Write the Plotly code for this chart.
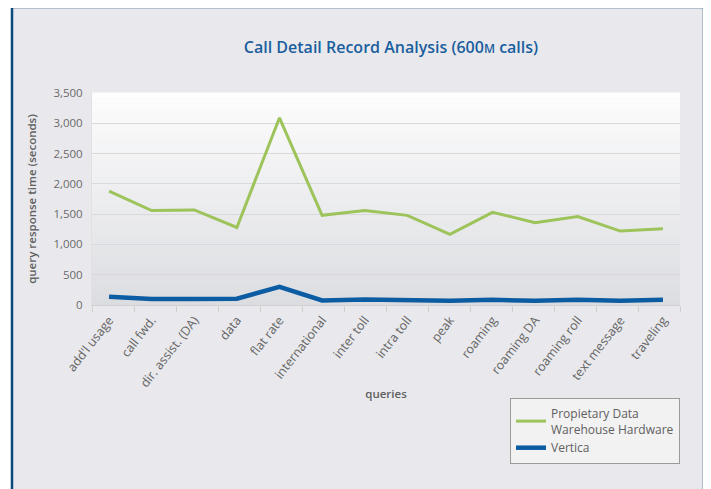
import plotly.graph_objects as go

categories = ["add'l usage", "call fwd.", "dir. assist. (DA)", "data", "flat rate",
              "international", "inter toll", "intra toll", "peak", "roaming",
              "roaming DA", "roaming roll", "text message", "traveling"]
proprietary = [1880, 1560, 1570, 1280, 3090, 1480, 1560, 1480, 1165, 1530, 1360, 1460, 1220, 1260]
vertica = [135, 100, 100, 105, 300, 75, 90, 85, 70, 85, 70, 85, 70, 85]
y_ticks = [0, 500, 1000, 1500, 2000, 2500, 3000, 3500]
y_ticktext = ["0", "500", "1,000", "1,500", "2,000", "2,500", "3,000", "3,500"]

OFF = 8  # page body margin
W, H = 711 - OFF, 489 - OFF
L, T = 84, 85
pw, ph = 588, 212
R, B = W - L - pw, H - T - ph

def px(x):
    return (x - OFF - L) / pw

def py(y):
    return (H - B - (y - OFF)) / ph

FONT = "Open Sans"
ncat = len(categories)

fig = go.Figure()
fig.add_trace(go.Scatter(x=categories, y=proprietary, mode="lines",
                         name="Propietary Data<br>Warehouse Hardware",
                         line=dict(color="#9dc35b", width=3)))
fig.add_trace(go.Scatter(x=categories, y=vertica, mode="lines", name="Vertica",
                         line=dict(color="#0b5ca3", width=4.5)))
# invisible trace on tick-helper axis
fig.add_trace(go.Scatter(x=[0, ncat], y=[None, None], xaxis="x2", showlegend=False,
                         hoverinfo="skip", mode="lines"))

RIGHT = 704
shapes = []
# outer frame (fill + border lines)
shapes.append(dict(type="rect", xref="paper", yref="paper",
                   x0=px(12), x1=px(RIGHT), y0=py(560), y1=py(7),
                   line=dict(width=0), fillcolor="#e9e9ed", layer="below"))
frame_line = dict(color="#0b4a7c", width=2.5)
shapes.append(dict(type="line", xref="paper", yref="paper",
                   x0=px(12), x1=px(12), y0=py(560), y1=py(7), line=frame_line))
shapes.append(dict(type="line", xref="paper", yref="paper",
                   x0=px(RIGHT), x1=px(RIGHT), y0=py(560), y1=py(7), line=frame_line))
shapes.append(dict(type="line", xref="paper", yref="paper",
                   x0=px(12), x1=px(RIGHT), y0=py(7), y1=py(7), line=frame_line))
# plot-area gradient
n = 40
top = (253, 253, 253)
bot = (220, 221, 225)
for i in range(n):
    f = (i + 0.5) / n
    c = tuple(round(top[k] + (bot[k] - top[k]) * f) for k in range(3))
    shapes.append(dict(type="rect", xref="x domain", yref="y domain",
                       x0=0, x1=1, y0=1 - (i + 1) / n, y1=1 - i / n + 0.002,
                       line=dict(width=0), fillcolor="rgb(%d,%d,%d)" % c, layer="below"))

fig.update_layout(
    width=W, height=H,
    margin=dict(l=L, r=R, t=T, b=B, autoexpand=False),
    paper_bgcolor="white",
    plot_bgcolor="rgba(0,0,0,0)",
    font=dict(family=FONT, color="#666666", size=11),
    title=dict(text="Call Detail Record Analysis (600<span style='font-size:12px'>M</span> calls)",
               x=(391 - OFF) / W, xanchor="center", y=1 - (47 - OFF) / H, yanchor="middle",
               font=dict(family=FONT, size=16, color="#1a5e9e", weight=600)),
    showlegend=True,
    legend=dict(x=px(510), y=py(398), xanchor="left", yanchor="top",
                bgcolor="#f2f2f2", bordercolor="#9a9a9a", borderwidth=1,
                font=dict(family=FONT, size=12, color="#606060"),
                tracegroupgap=4),
    shapes=shapes,
    xaxis2=dict(overlaying="x", anchor="y", side="bottom", range=[0, ncat],
                tickvals=list(range(ncat + 1)), showticklabels=False,
                ticks="outside", ticklen=6, tickcolor="#d0d0d0",
                showgrid=False, zeroline=False, showline=False),
)
fig.layout.xaxis.update(type="category", range=[-0.4, ncat - 0.6], tickangle=-52,
                        ticks="", showline=True, linecolor="#d0d0d0", showgrid=False,
                        tickfont=dict(size=12.5, color="#666666"), ticklabelstandoff=2,
                        title=dict(text="queries", font=dict(size=11.5, color="#606060", weight=600), standoff=0))
fig.update_yaxes(range=[0, 3500], tickvals=y_ticks, ticktext=y_ticktext,
                 showgrid=True, gridcolor="#d9d9dc", gridwidth=1,
                 showline=True, linecolor="#e0e0e0", zeroline=False,
                 ticks="", ticklabelstandoff=6,
                 tickfont=dict(size=11.5, color="#6a6a6a"),
                 title=dict(text="query response time (seconds)",
                            font=dict(size=11.5, color="#606060", weight=600), standoff=14))

fig.write_html("out.html")
